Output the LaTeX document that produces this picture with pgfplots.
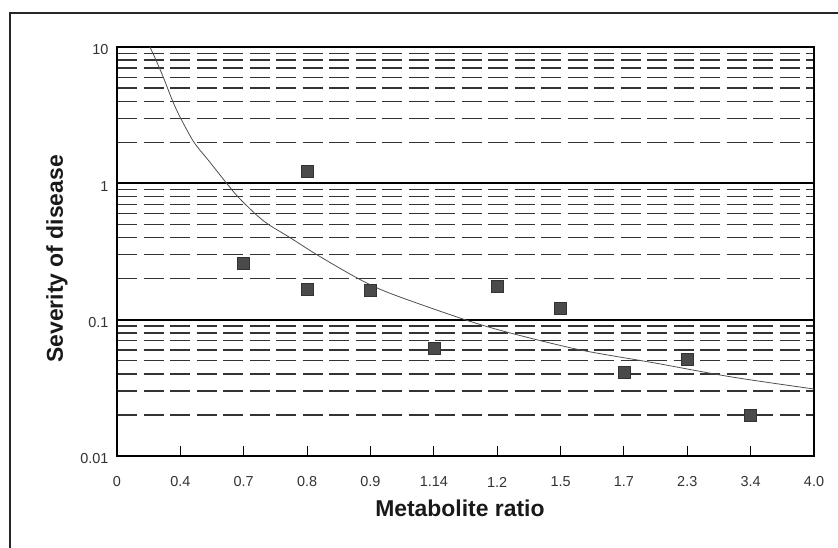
\documentclass[border=0pt]{standalone}
\usepackage{fontspec}
\setmainfont{Liberation Sans}
\usepackage{pgfplots}
\pgfplotsset{compat=1.18}
\definecolor{markgray}{HTML}{4A4A4A}
\definecolor{curvegray}{HTML}{505050}
\begin{document}
\begin{tikzpicture}[x=1bp,y=1bp]
\useasboundingbox (0,0) rectangle (838,548);
% outer frame of the figure
\draw[line width=1.2bp, black!85] (10,0) -- (10,535) -- (838,535);
\begin{axis}[
  at={(117bp,92bp)}, anchor=south west,
  scale only axis, width=697bp, height=409bp,
  xmin=0, xmax=11,
  ymode=log, ymin=0.01, ymax=10,
  xtick={0,...,11},
  xticklabels={0,0.4,0.7,0.8,0.9,1.14,1.2,1.5,1.7,2.3,3.4,4.0},
  ytick={0.01,0.1,1,10},
  yticklabels={0.01,0.1,1,10},
  xtick pos=left,
  tick align=inside,
  major tick length=10bp,
  ytick style={draw=none},
  ymajorgrids, yminorgrids,
  major grid style={black, line width=2bp},
  minor grid style={black!80, line width=1.4bp, dash pattern=on 20bp off 6.5bp},
  axis line style={line width=1.1bp},
  xtick style={line width=1.1bp, black},
  ticklabel style={font=\fontsize{14.5}{17}\selectfont, text=black!80},
  xticklabel style={anchor=center, yshift=-26bp},
  yticklabel style={anchor=east, xshift=-5bp, yshift=-3bp},
  label style={font=\bfseries\fontsize{23}{27}\selectfont, text=black!90},
  xlabel={Metabolite ratio},
  xlabel style={at={(axis description cs:0.492,-0.128)}, anchor=center},
  ylabel={Severity of disease},
  ylabel style={at={(axis description cs:-0.086,0.482)}, anchor=center},
  clip=true,
]
% fitted curve
\addplot[curvegray, line width=0.8bp, smooth] coordinates {
  (0.52,10) (0.616,8) (0.731,6) (0.879,4) (1.005,3) (1.215,2) (1.45,1.46)
  (1.731,1) (1.905,0.8) (2.178,0.6) (2.388,0.5) (2.73,0.4) (3.152,0.3)
  (3.808,0.2) (4.31,0.156) (5.49,0.1) (6.2,0.08) (7.31,0.06) (8.5,0.048)
  (9.7,0.038) (11,0.031)
};
% observations
\addplot[only marks, mark=square*, mark size=6bp,
  mark options={fill=markgray, draw=black!80, line width=0.5bp}] coordinates {
  (2,0.26) (3,1.22) (3,0.168) (4,0.164) (5,0.062) (6,0.175)
  (7,0.122) (8,0.041) (9,0.051) (10,0.020)
};
\end{axis}
\end{tikzpicture}
\end{document}
